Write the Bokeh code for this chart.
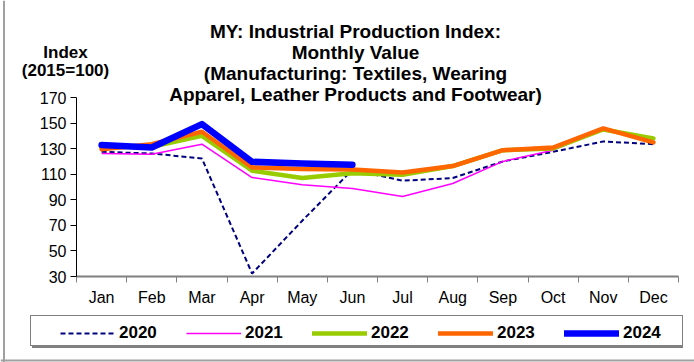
from bokeh.plotting import figure
from bokeh.models import Label, Legend, LegendItem, FixedTicker, Range1d, Span
from bokeh.embed import file_html
from bokeh.resources import INLINE

# ---- data ----
months = ["Jan", "Feb", "Mar", "Apr", "May", "Jun", "Jul", "Aug", "Sep", "Oct", "Nov", "Dec"]
y2020 = [127.5, 126.2, 122.3, 32.3, 73.6, 113.5, 104.9, 107.0, 120.0, 127.5, 135.6, 133.5]
y2021 = [126.2, 125.7, 133.5, 107.4, 101.7, 98.8, 92.6, 102.7, 120.0, 128.8, 145.0, 136.0]
y2022 = [131.0, 131.5, 140.0, 112.7, 107.0, 110.8, 109.5, 116.4, 128.8, 130.1, 145.0, 138.0]
y2023 = [129.6, 133.5, 143.2, 115.3, 114.0, 113.7, 111.3, 116.4, 128.8, 130.9, 145.8, 134.9]
y2024 = [132.8, 130.9, 149.2, 119.7, 118.4, 117.4]
years = ["2020", "2021", "2022", "2023", "2024"]
y_ticks = [30, 50, 70, 90, 110, 130, 150, 170]
title_lines = ["MY: Industrial Production Index:", "Monthly Value",
               "(Manufacturing: Textiles, Wearing", "Apparel, Leather Products and Footwear)"]
unit_lines = ["Index", "(2015=100)"]

FONT = "Liberation Sans"
W, H = 694, 362
# plot area in canvas pixels
PL, PR, PT, PB = 76, 678, 97, 276
YMIN, YMAX = 30, 170
NX = len(months)
sx_ = (PR - PL) / NX           # px per x unit
sy_ = (PB - PT) / (YMAX - YMIN)  # px per y unit

def dx(px):
    return (px - PL) / sx_

def dy(py):
    return YMIN + (PB - py) / sy_

p = figure(width=W, height=H,
           x_range=Range1d(dx(0), dx(W)), y_range=Range1d(dy(H), dy(0)),
           output_backend="svg", toolbar_location=None,
           min_border=0, min_border_left=0, min_border_right=0,
           min_border_top=0, min_border_bottom=0)
p.outline_line_color = None
p.grid.visible = False
p.background_fill_color = "white"
p.border_fill_color = "white"

xs = [i + 0.5 for i in range(NX)]

# x axis: labels at month centres, tick marks at month boundaries
xa = p.xaxis[0]
xa.fixed_location = YMIN
xa.bounds = (0, NX)
xa.ticker = FixedTicker(ticks=xs, minor_ticks=list(range(NX + 1)))
xa.major_label_overrides = {x: m for x, m in zip(xs, months)}
xa.major_tick_out = 0
xa.major_tick_in = 0
xa.minor_tick_out = 6
xa.minor_tick_in = 0
xa.minor_tick_line_color = "#808080"
xa.axis_line_color = "#808080"
xa.axis_line_width = 2
xa.major_label_text_font = FONT
xa.major_label_text_font_size = "16px"
xa.major_label_text_color = "black"
xa.major_label_standoff = 6

ya = p.yaxis[0]
ya.fixed_location = 0
ya.bounds = (YMIN, YMAX)
ya.ticker = FixedTicker(ticks=y_ticks, minor_ticks=[])
ya.major_tick_out = 6
ya.major_tick_in = 0
ya.major_tick_line_color = "black"
ya.axis_line_color = "black"
ya.major_label_text_font = FONT
ya.major_label_text_font_size = "16px"
ya.major_label_text_color = "black"
ya.major_label_standoff = 4

# ---- series ----
styles = [
    dict(line_color="#000080", line_width=2, line_dash="5 3"),
    dict(line_color="#FF00FF", line_width=1.5, line_join="round"),
    dict(line_color="#99CC00", line_width=4.5, line_join="round", line_cap="round"),
    dict(line_color="#FF6600", line_width=4.5, line_join="round", line_cap="round"),
    dict(line_color="#0000FF", line_width=6.5, line_join="round", line_cap="round"),
]
series = [y2020, y2021, y2022, y2023, y2024]
renderers = []
for ys, st in zip(series, styles):
    renderers.append(p.line(x=xs[:len(ys)], y=ys, **st))

# ---- outer partial frame (left and bottom edges) ----
p.add_layout(Span(location=dx(3.5), dimension="height", line_color="#a0a0a0", line_width=2))
p.add_layout(Span(location=dy(360), dimension="width", line_color="#a0a0a0", line_width=2))

# ---- text ----
for i, t in enumerate(title_lines):
    p.add_layout(Label(x=dx(355), y=dy(31 + 21 * i), text=t, text_align="center",
                       text_baseline="alphabetic", text_font=FONT, text_font_size="19px",
                       text_font_style="bold", text_color="black"))
for i, t in enumerate(unit_lines):
    p.add_layout(Label(x=dx(65), y=dy(52 + 18 * i), text=t, text_align="center",
                       text_baseline="alphabetic", text_font=FONT, text_font_size="17px",
                       text_font_style="bold", text_color="black"))

# ---- legend (shadow, box, items) ----
dummy = p.line(x=[0, 1], y=[-100, -100], line_alpha=0)

def box_legend(loc, fill, border):
    return Legend(items=[LegendItem(label=" ", renderers=[dummy])], location=loc,
                  padding=0, margin=0, spacing=0, glyph_width=651, glyph_height=29,
                  label_width=0, label_height=29, label_standoff=0,
                  label_text_font_size="1px", background_fill_color=fill,
                  background_fill_alpha=1, border_line_color=border, border_line_width=1)

# locations: (left, bottom) in px from canvas bottom-left
shadow = box_legend((32, H - 348), "#808080", None)
box = box_legend((30, H - 346), "white", "black")
items = Legend(items=[LegendItem(label=y, renderers=[r]) for y, r in zip(years, renderers)],
               location=(60, H - 343), orientation="horizontal",
               padding=0, margin=0, spacing=0, glyph_width=55, glyph_height=20,
               label_standoff=4, label_width=67, label_height=20,
               label_text_font=FONT, label_text_font_size="17px", label_text_font_style="bold",
               label_text_color="black", background_fill_alpha=0, border_line_color=None)
p.add_layout(shadow)
p.add_layout(box)
p.add_layout(items)

open("out.html", "w").write(file_html(p, INLINE))
